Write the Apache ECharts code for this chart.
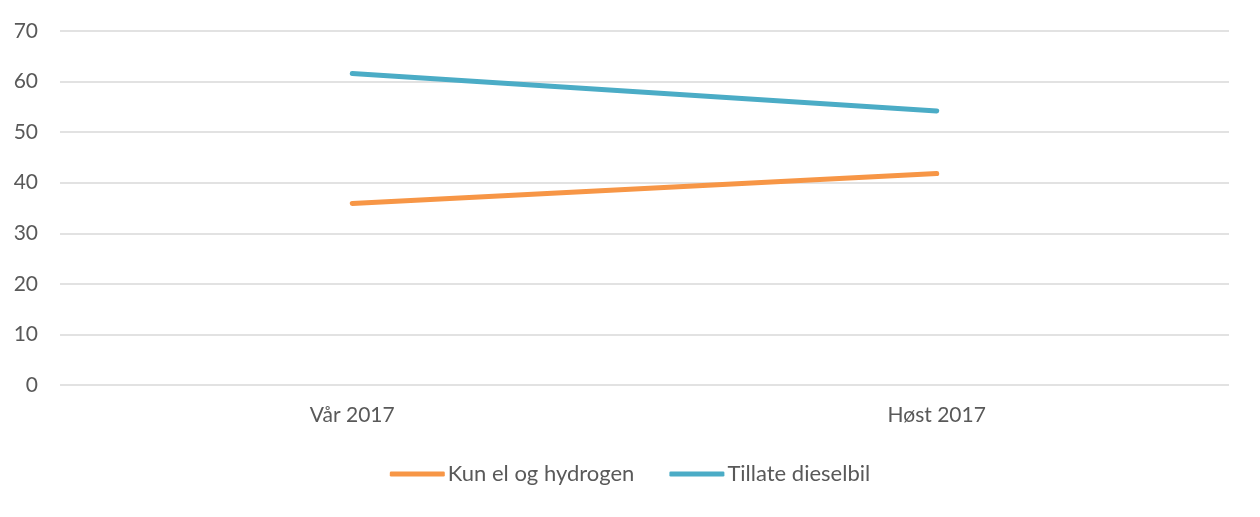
<!DOCTYPE html>
<html><head><meta charset="utf-8">
<script src="https://cdn.jsdelivr.net/npm/echarts@6/dist/echarts.min.js"></script>
<style>html,body{margin:0;padding:0;background:#fff}#c{width:1260px;height:517px}</style>
</head><body><div id="c"></div>
<script>
const categories = ['Vår 2017', 'Høst 2017'];
const kunEl = [35.9, 41.8];
const tillateDiesel = [61.6, 54.2];
const seriesNames = ['Kun el og hydrogen', 'Tillate dieselbil'];

const chart = echarts.init(document.getElementById('c'), null, {renderer: 'canvas'});
const font = 'Lato, "Open Sans", sans-serif';
chart.setOption({
  animation: false,
  grid: {left: 60, right: 31, top: 31, bottom: 132, containLabel: false},
  legend: {
    bottom: 27, left: 'center',
    itemWidth: 55, itemHeight: 5, itemGap: 35,
    icon: 'roundRect',
    textStyle: {fontFamily: font, fontSize: 22, color: '#595959', padding: [0, 0, 0, -2]},
    data: seriesNames
  },
  xAxis: {
    type: 'category', data: categories, boundaryGap: true,
    axisLine: {show: false}, axisTick: {show: false},
    axisLabel: {fontFamily: font, fontSize: 21, color: '#595959', margin: 20}
  },
  yAxis: {
    type: 'value', min: 0, max: 70, interval: 10,
    axisLine: {show: false}, axisTick: {show: false},
    axisLabel: {fontFamily: font, fontSize: 21, color: '#595959', margin: 22},
    splitLine: {lineStyle: {color: '#d9d9d9', width: 1.5}}
  },
  series: [
    {name: seriesNames[0], type: 'line', data: kunEl, symbol: 'none',
     lineStyle: {color: '#F79646', width: 5, cap: 'round'}, itemStyle: {color: '#F79646'}},
    {name: seriesNames[1], type: 'line', data: tillateDiesel, symbol: 'none',
     lineStyle: {color: '#4BACC6', width: 5, cap: 'round'}, itemStyle: {color: '#4BACC6'}}
  ]
});
</script></body></html>
